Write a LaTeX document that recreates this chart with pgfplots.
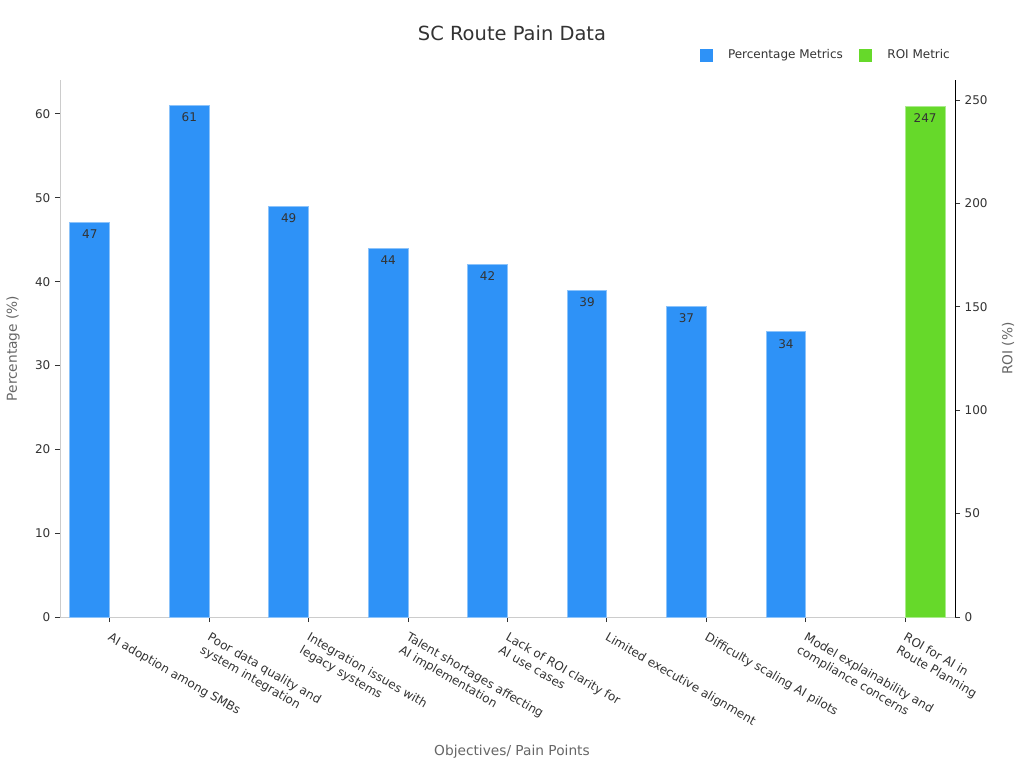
\documentclass[border=0pt]{standalone}
\usepackage{pgfplots}
\pgfplotsset{compat=1.18}
\usepackage{fontspec}
\setmainfont{DejaVu Sans}
\definecolor{barblue}{RGB}{46,146,247}
\definecolor{bluedge}{RGB}{140,195,250}
\definecolor{bargreen}{RGB}{102,217,42}
\definecolor{greenedge}{RGB}{170,235,140}
\definecolor{txt}{RGB}{51,51,51}
\definecolor{lbl}{RGB}{102,102,102}
\definecolor{spine}{RGB}{204,204,204}
\pgfplotsset{
  bluesq/.style={legend image code/.code={\fill[barblue] (-2pt,-4.5pt) rectangle (7pt,4.5pt); \path[draw=none,fill=none] (7pt,0pt) -- (17pt,0pt);}},
  greensq/.style={legend image code/.code={\fill[bargreen] (-2pt,-4.5pt) rectangle (7pt,4.5pt); \path[draw=none,fill=none] (7pt,0pt) -- (17pt,0pt);}},
  common/.style={
    at={(45pt,113.25pt)}, anchor=south west,
    scale only axis, width=671.25pt, height=402.75pt,
    xmin=-0.5, xmax=8.5, ymin=0,
    tick align=outside, major tick length=3.75pt,
    tick style={txt, line width=0.75pt},
    tick label style={font=\fontsize{9pt}{11pt}\selectfont, text=txt},
    /pgf/number format/assume math mode=true,
    label style={font=\fontsize{10.3pt}{12pt}\selectfont, text=lbl},
  },
  vals/.style={nodes near coords,
    every node near coord/.append style={anchor=north, font=\fontsize{9pt}{11pt}\selectfont, text=txt, inner sep=2pt, yshift=-3pt}},
}
\begin{document}
\begin{tikzpicture}
\path[use as bounding box] (0,0) rectangle (768pt,576pt);
\begin{axis}[
  common,
  ymax=64.05,
  axis x line*=bottom, axis y line*=left,
  x axis line style={spine, line width=0.75pt}, y axis line style={spine, line width=0.75pt},
  xtick={0,...,8},
  xticklabels={{AI adoption among SMBs},{Poor data quality and\\system integration},{Integration issues with\\legacy systems},{Talent shortages affecting\\AI implementation},{Lack of ROI clarity for\\AI use cases},{Limited executive alignment},{Difficulty scaling AI pilots},{Model explainability and\\compliance concerns},{ROI for AI in\\Route Planning}},
  x tick label style={rotate=-30, anchor=north west, align=left, inner sep=1pt, yshift=-4.5pt, xshift=4pt},
  ytick={0,10,...,60},
  ylabel={Percentage (\%)},
  ylabel style={at={(axis description cs:-0.0525,0.5)}, anchor=center},
  xlabel={Objectives/ Pain Points},
  xlabel style={at={(axis description cs:0.505,-0.2515)}, anchor=center},
  title={SC Route Pain Data},
  title style={at={(axis description cs:0.505,1.0726)}, anchor=center, font=\fontsize{14.6pt}{17pt}\selectfont, text=txt},
]
\addplot[ybar, bar width=0.4, bar shift=0, fill=barblue, draw=bluedge, line width=0.75pt, vals]
  coordinates {(-0.2,47) (0.8,61) (1.8,49) (2.8,44) (3.8,42) (4.8,39) (5.8,37) (6.8,34)};
\end{axis}
\begin{axis}[
  common,
  ymax=259.7,
  axis x line=none, axis y line*=right,
  y axis line style={black, line width=0.75pt},
  ytick={0,50,...,250},
  ylabel={ROI (\%)},
  ylabel style={at={(axis description cs:1.0592,0.5)}, anchor=center},
  legend columns=2,
  legend style={at={(axis description cs:1.002,1.046)}, anchor=east, draw=none, fill=none,
    font=\fontsize{9pt}{11pt}\selectfont, text=txt,
    /tikz/every even column/.append style={column sep=10pt}},
]
\addlegendimage{bluesq}
\addlegendentry{Percentage Metrics}
\addplot[ybar, greensq, bar width=0.4, bar shift=0, fill=bargreen, draw=greenedge, line width=0.75pt, vals]
  coordinates {(8.2,247)};
\addlegendentry{ROI Metric}
\end{axis}
\end{tikzpicture}
\end{document}
